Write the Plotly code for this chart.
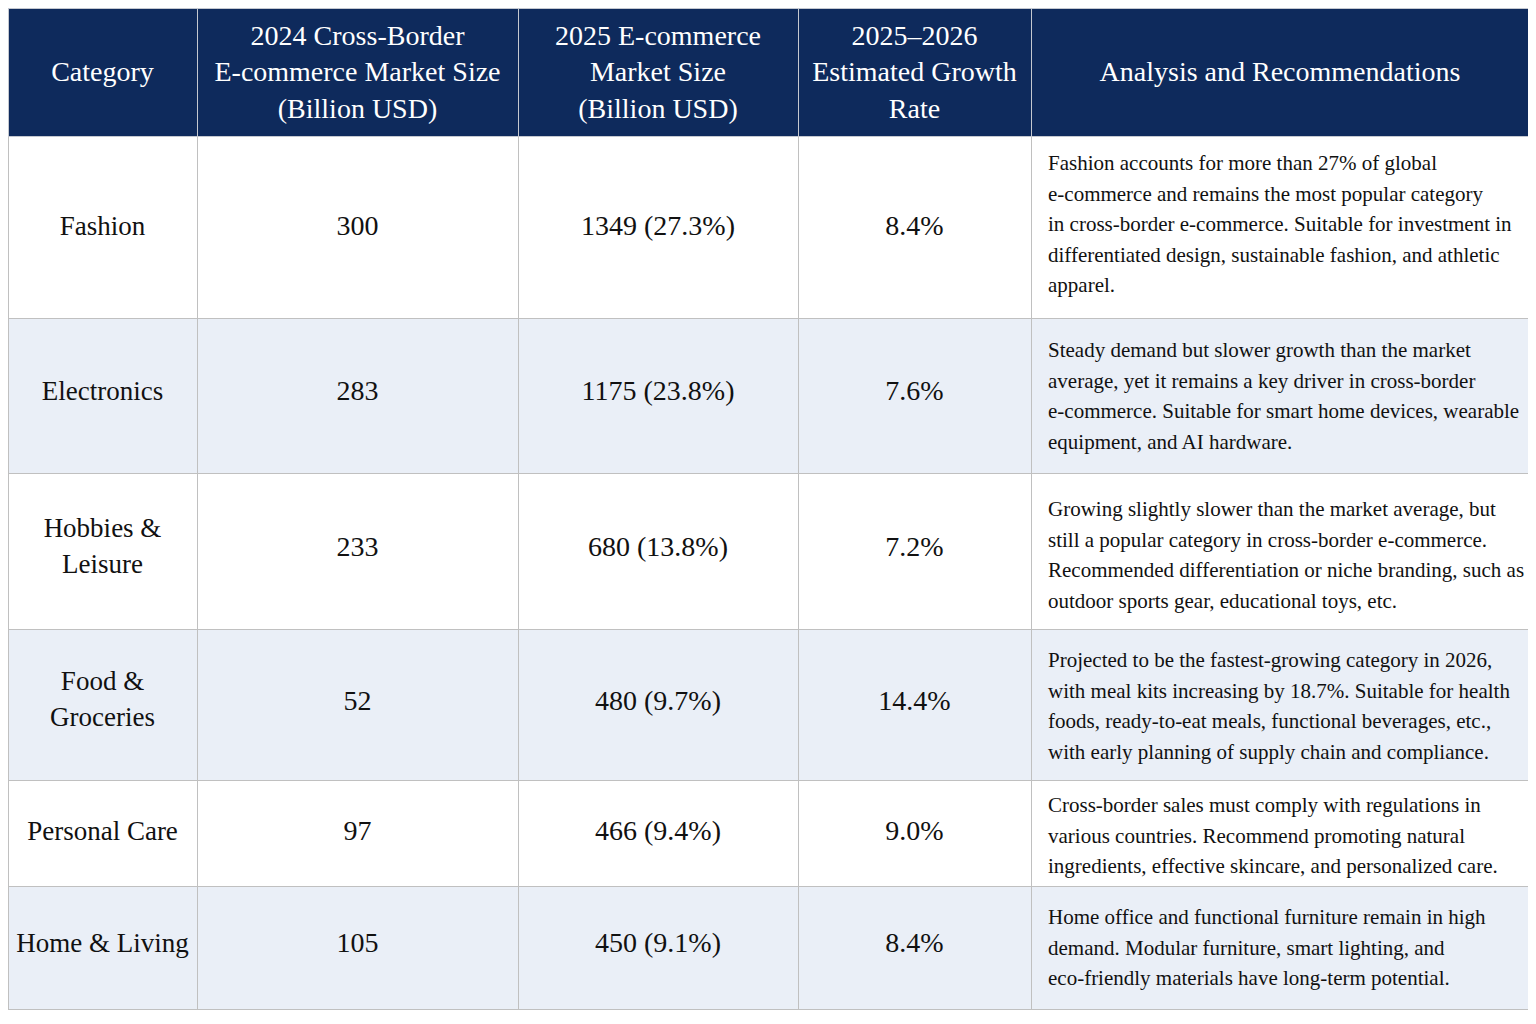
import math
import plotly.graph_objects as go

# ---------------- data ----------------
headers = [
    ["Category"],
    ["2024 Cross-Border", "E-commerce Market Size", "(Billion USD)"],
    ["2025 E-commerce", "Market Size", "(Billion USD)"],
    ["2025–2026", "Estimated Growth", "Rate"],
    ["Analysis and Recommendations"],
]
categories = [["Fashion"], ["Electronics"], ["Hobbies &", "Leisure"], ["Food &", "Groceries"],
              ["Personal Care"], ["Home & Living"]]
size_2024 = [300, 283, 233, 52, 97, 105]
size_2025 = [1349, 1175, 680, 480, 466, 450]
share_2025 = ["27.3%", "23.8%", "13.8%", "9.7%", "9.4%", "9.1%"]
growth = ["8.4%", "7.6%", "7.2%", "14.4%", "9.0%", "8.4%"]
analysis = [
    ["Fashion accounts for more than 27% of global",
     "e-commerce and remains the most popular category",
     "in cross-border e-commerce. Suitable for investment in",
     "differentiated design, sustainable fashion, and athletic",
     "apparel."],
    ["Steady demand but slower growth than the market",
     "average, yet it remains a key driver in cross-border",
     "e-commerce. Suitable for smart home devices, wearable",
     "equipment, and AI hardware."],
    ["Growing slightly slower than the market average, but",
     "still a popular category in cross-border e-commerce.",
     "Recommended differentiation or niche branding, such as",
     "outdoor sports gear, educational toys, etc."],
    ["Projected to be the fastest-growing category in 2026,",
     "with meal kits increasing by 18.7%. Suitable for health",
     "foods, ready-to-eat meals, functional beverages, etc.,",
     "with early planning of supply chain and compliance."],
    ["Cross-border sales must comply with regulations in",
     "various countries. Recommend promoting natural",
     "ingredients, effective skincare, and personalized care."],
    ["Home office and functional furniture remain in high",
     "demand. Modular furniture, smart lighting, and",
     "eco-friendly materials have long-term potential."],
]

# ---------------- layout / style ----------------
FONT = "Liberation Serif"
col_widths = [189, 321, 280, 233, 498]
header_height = 128
row_heights = [182, 155, 156, 151, 106, 123]
# baseline of first text line, measured from the top of the row
value_base = [99, 82, 83, 81, 60, 66]
cat_base = [99, 82, 64, 61, 60, 66]
note_base = [34, 39, 43, 38, 32, 38]
header_base = 37
header_single_base = 73
TEXT = 28          # main text size / line pitch font
CAT = 27           # category text size
NOTE = 21          # analysis text size
NOTE_LINE = 23.5   # analysis line pitch = 1.3 * this
STEP_FONT = 10     # pitch font for the invisible filler lines in value columns
PAD = 8            # plotly table cell padding
ASC = 0.891        # font ascent ratio
DESC = 0.216       # font descent ratio

# Times / Liberation Serif advance widths (1/1000 em)
W = {' ': 250, '\u00a0': 250, '!': 333, '%': 833, '&': 778, '(': 333, ')': 333, ',': 250, '-': 333,
     '.': 250, '/': 278, ':': 278, ';': 278, '–': 500,
     'A': 722, 'B': 667, 'C': 667, 'D': 722, 'E': 611, 'F': 556, 'G': 722, 'H': 722, 'I': 333,
     'J': 389, 'K': 722, 'L': 611, 'M': 889, 'N': 722, 'O': 722, 'P': 556, 'Q': 722, 'R': 667,
     'S': 556, 'T': 611, 'U': 722, 'V': 722, 'W': 944, 'X': 722, 'Y': 722, 'Z': 611,
     'a': 444, 'b': 500, 'c': 444, 'd': 500, 'e': 444, 'f': 333, 'g': 500, 'h': 500, 'i': 278,
     'j': 278, 'k': 500, 'l': 278, 'm': 778, 'n': 500, 'o': 500, 'p': 500, 'q': 500, 'r': 333,
     's': 389, 't': 278, 'u': 500, 'v': 500, 'w': 722, 'x': 500, 'y': 500, 'z': 444}

TAIL = "<br>" + "<span style='font-size:1px'>\u00a0</span>"


def tw(s, size):
    return sum(W.get(ch, 500) for ch in s) / 1000.0 * size


def span(text, size):
    return f"<span style='font-size:{size:.2f}px'>{text}</span>"


def gap(px, maxsize):
    if px < 0.5:
        return ""
    n = max(1, math.ceil(px / (0.25 * maxsize)))
    return span("\u00a0" * n, 4.0 * px / n)


def centered(lines, size, base, tail=True):
    s = max(size, (base - PAD) / ASC)
    spacer = span("\u00a0", s)
    widths = [tw(t, size) + (0.5 * s if i == 0 else 0) for i, t in enumerate(lines)]
    wmax = max(widths)
    parts = []
    for i, t in enumerate(lines):
        body = span(t, size)
        if i == 0:
            body = spacer + body + spacer
        parts.append(gap((wmax - widths[i]) / 2, size) + body)
    html = "<br>".join(parts)
    if tail and len(lines) == 1:
        html += TAIL
    return html


def filler(base, row_h):
    """invisible lines that stretch the row to row_h"""
    need = row_h - PAD - base
    step = 1.3 * STEP_FONT
    k = int(need // step)
    t = max(1.0, (need - k * step) / DESC)
    out = ""
    for i in range(k):
        out += "<br>" + span("\u00a0", t if i == k - 1 else 1)
    return out


def value_cell(text, r):
    return centered([text], TEXT, value_base[r], tail=False) + filler(value_base[r], row_heights[r])


def left_note(lines, base):
    s = max(NOTE, (base - PAD) / ASC)
    indent = span("\u00a0\u00a0", 18)
    parts = []
    for i, t in enumerate(lines):
        p = indent + span(t, NOTE)
        if i == 0:
            p += span("\u00a0", s)
        parts.append(p)
    return "<br>".join(parts)


head_vals = [centered(h, TEXT, header_single_base if len(h) == 1 else header_base) for h in headers]

n = len(categories)
col_cat = [centered(categories[r], CAT, cat_base[r]) for r in range(n)]
col_2024 = [value_cell(str(size_2024[r]), r) for r in range(n)]
col_2025 = [value_cell(f"{size_2025[r]} ({share_2025[r]})", r) for r in range(n)]
col_growth = [value_cell(growth[r], r) for r in range(n)]
col_note = [left_note(analysis[r], note_base[r]) for r in range(n)]

row_fill = ["#ffffff" if i % 2 == 0 else "#eaeff7" for i in range(n)]

fig = go.Figure(go.Table(
    columnwidth=col_widths,
    header=dict(
        values=head_vals,
        fill_color="#0e2a5c",
        line=dict(color="#c4c8d0", width=1),
        font=dict(family=FONT, size=TEXT, color="white"),
        align="center",
        height=header_height,
    ),
    cells=dict(
        values=[col_cat, col_2024, col_2025, col_growth, col_note],
        fill_color=[row_fill] * 5,
        line=dict(color="#c0c0c0", width=1),
        font=dict(family=FONT, size=[TEXT, STEP_FONT, STEP_FONT, STEP_FONT, NOTE_LINE], color="#111111"),
        align=["center", "center", "center", "center", "left"],
        height=20,
    ),
))
fig.update_layout(
    width=1536, height=1024,
    margin=dict(l=0, r=15, t=0, b=0),
    paper_bgcolor="white",
)
fig.write_html("out.html")
